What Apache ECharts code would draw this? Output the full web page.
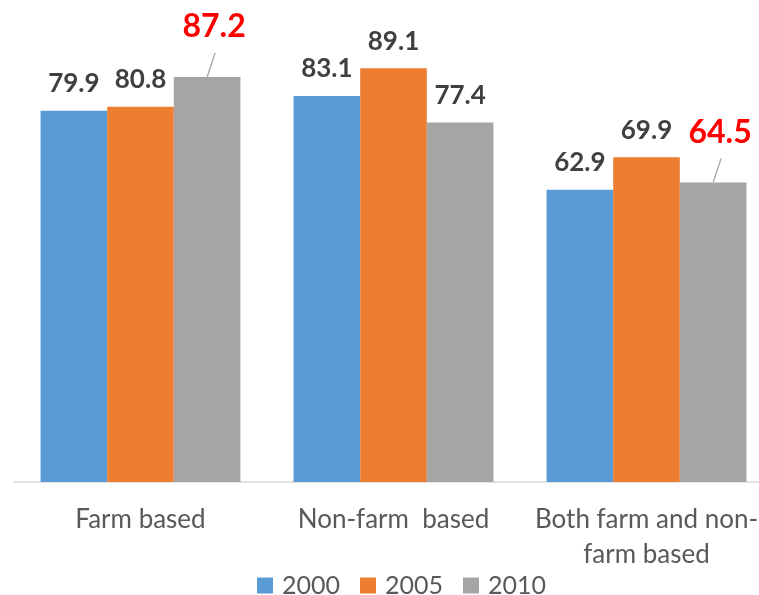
<!DOCTYPE html>
<html>
<head>
<meta charset="utf-8">
<script src="https://cdn.jsdelivr.net/npm/echarts@6/dist/echarts.min.js"></script>
<style>
  html, body { margin: 0; padding: 0; background: #fff; }
  #chart { width: 759px; height: 595px; }
</style>
</head>
<body>
<div id="chart"></div>
<script>
// Categories and yearly values
const categories = ['Farm based', 'Non-farm  based', 'Both farm and non-\nfarm based'];
const years = ['2000', '2005', '2010'];
const values2000 = [79.9, 83.1, 62.9];
const values2005 = [80.8, 89.1, 69.9];
const values2010 = [87.2, 77.4, 64.5];
// Values in the 2010 series that get a highlighted call-out label
const highlighted2010 = [true, false, true];

const colors = ['#5b9bd5', '#ed7d31', '#a5a5a5'];
const FONT = 'Lato, "Open Sans", sans-serif';
const CATEGORY_GAP = 0.21;   // share of each band left empty between groups

const baseLabel = {
  show: true,
  position: 'top',
  distance: 14,
  fontFamily: FONT,
  fontWeight: 'bold',
  fontSize: 26,
  color: '#404040',
  formatter: p => p.value.toFixed(1)
};

const data2010 = values2010.map((v, i) => highlighted2010[i] ? {
  value: v,
  label: { fontSize: 32, color: '#ff0000' }
} : { value: v });

// Call-out labels are lifted up and to the right of their bar
function calloutLayout(p) {
  return highlighted2010[p.dataIndex] ? { dx: 7, dy: -20 } : {};
}

// Leader lines from the top of each highlighted 2010 bar towards its call-out label
const leaderData = values2010
  .map((v, i) => [i, v])
  .filter(d => highlighted2010[d[0]]);

function renderLeader(params, api) {
  const idx = api.value(0);
  const val = api.value(1);
  const pt = api.coord([idx, val]);
  const band = api.size([1, 0])[0];
  const barW = band * (1 - CATEGORY_GAP) / 3;
  const cx = pt[0] + barW;          // centre of the third bar in the group
  const top = pt[1];
  return {
    type: 'line',
    shape: { x1: cx, y1: top, x2: cx + 8, y2: top - 24 },
    style: { stroke: '#a5a5a5', lineWidth: 1.3 }
  };
}

const chart = echarts.init(document.getElementById('chart'), null, { renderer: 'canvas' });
chart.setOption({
  animation: false,
  color: colors,
  grid: { left: 14, width: 759, top: 17.5, bottom: 113, outerBoundsMode: 'none', containLabel: false },
  legend: {
    data: years,
    left: 257,
    top: 573,
    padding: 0,
    itemWidth: 16,
    itemHeight: 16,
    itemGap: 20,
    icon: 'rect',
    textStyle: { fontFamily: FONT, fontSize: 25, color: '#595959', padding: [0, 0, 0, 4] }
  },
  xAxis: {
    type: 'category',
    data: categories,
    axisLine: { lineStyle: { color: '#d9d9d9', width: 1.5 } },
    axisTick: { show: false },
    axisLabel: {
      fontFamily: FONT,
      fontSize: 26,
      color: '#595959',
      margin: 20,
      lineHeight: 35,
      interval: 0
    }
  },
  yAxis: {
    type: 'value',
    min: 0,
    max: 100,
    show: false,
    splitLine: { show: false }
  },
  series: [
    { name: years[0], type: 'bar', barGap: '0%', barCategoryGap: '21%', data: values2000, label: baseLabel },
    { name: years[1], type: 'bar', barGap: '0%', barCategoryGap: '21%', data: values2005, label: baseLabel },
    {
      name: years[2], type: 'bar', barGap: '0%', barCategoryGap: '21%', data: data2010, label: baseLabel,
      labelLayout: calloutLayout
    },
    {
      name: 'leader', type: 'custom', data: leaderData, renderItem: renderLeader,
      silent: true, z: 3, encode: { x: 0, y: 1 }
    }
  ]
});
</script>
</body>
</html>
